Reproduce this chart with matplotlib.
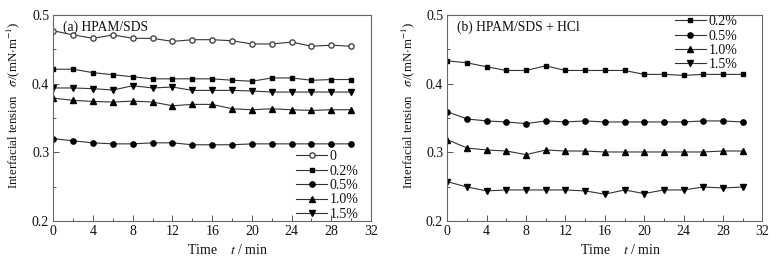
import numpy as np
import matplotlib
matplotlib.use("Agg")
import matplotlib.pyplot as plt
from matplotlib.ticker import MultipleLocator

plt.rcParams["font.family"] = ["Liberation Serif", "DejaVu Serif"]
plt.rcParams["mathtext.fontset"] = "stix"

# time axis (min)
t = [0, 2, 4, 6, 8, 10, 12, 14, 16, 18, 20, 22, 24, 26, 28, 30]

# (a) HPAM/SDS
a_labels = ["0", "0.2%", "0.5%", "1.0%", "1.5%"]
a_0 = [0.477, 0.471, 0.466, 0.471, 0.466, 0.466, 0.4615, 0.464, 0.464, 0.4625,
       0.4578, 0.4578, 0.4605, 0.4545, 0.456, 0.4545]
a_02 = [0.421, 0.421, 0.416, 0.413, 0.410, 0.407, 0.407, 0.407, 0.407, 0.405,
        0.4035, 0.4083, 0.4083, 0.4049, 0.406, 0.406]
a_05 = [0.320, 0.3167, 0.3138, 0.3123, 0.3123, 0.3138, 0.3138, 0.311, 0.311, 0.311,
        0.3123, 0.3123, 0.3123, 0.3123, 0.3123, 0.3123]
a_10 = [0.379, 0.3756, 0.3741, 0.3732, 0.3746, 0.3732, 0.3678, 0.3698, 0.3698, 0.3634,
        0.362, 0.3634, 0.362, 0.361, 0.362, 0.362]
a_15 = [0.3937, 0.3937, 0.3927, 0.3907, 0.397, 0.3937, 0.3951, 0.3902, 0.3902, 0.3902,
        0.3893, 0.3878, 0.3878, 0.3878, 0.3878, 0.3878]

# (b) HPAM/SDS + HCl
b_labels = ["0.2%", "0.5%", "1.0%", "1.5%"]
b_02 = [0.4332, 0.4303, 0.4245, 0.4192, 0.4192, 0.426, 0.4192, 0.4192, 0.4192, 0.4192,
        0.4135, 0.4135, 0.412, 0.4135, 0.4135, 0.4135]
b_05 = [0.3591, 0.3486, 0.3457, 0.3442, 0.3418, 0.3457, 0.3442, 0.3457, 0.3442, 0.3442,
        0.3442, 0.3442, 0.3442, 0.3457, 0.3457, 0.3442]
b_10 = [0.3183, 0.3063, 0.3034, 0.3019, 0.2966, 0.3034, 0.3019, 0.3019, 0.3005, 0.3005,
        0.3005, 0.3005, 0.3005, 0.3005, 0.3019, 0.3019]
b_15 = [0.2572, 0.2495, 0.2438, 0.2452, 0.2452, 0.2452, 0.2452, 0.2438, 0.239, 0.2452,
        0.2399, 0.2452, 0.2452, 0.2495, 0.2481, 0.2495]

LINE = "#333333"
TXT = "#111111"

fig = plt.figure(figsize=(7.81, 2.61), dpi=100)
ax1 = fig.add_axes([0.0683, 0.1533, 0.4068, 0.7893])
ax2 = fig.add_axes([0.5728, 0.1533, 0.4033, 0.7893])


def style_ax(ax, title, xlab_x, ylab_x):
    ax.set_xlim(0, 32)
    ax.set_ylim(0.2, 0.5)
    ax.xaxis.set_major_locator(MultipleLocator(4))
    ax.xaxis.set_minor_locator(MultipleLocator(2))
    ax.yaxis.set_major_locator(MultipleLocator(0.1))
    ax.yaxis.set_minor_locator(MultipleLocator(0.05))
    ax.yaxis.set_major_formatter(plt.FuncFormatter(lambda v, p: f"{v:.1f}"))
    ax.tick_params(which="both", direction="in", top=False, right=False,
                   labelsize=10, colors="#555555", labelcolor=TXT, width=0.7)
    ax.tick_params(which="major", length=4, pad=3)
    ax.tick_params(which="minor", length=2.5)
    for s in ax.spines.values():
        s.set_edgecolor("#666666")
        s.set_linewidth(0.8)
    ax.text(0.03, 0.975, title, transform=ax.transAxes, ha="left", va="top",
            fontsize=9.8, color=TXT)
    ax.set_xlabel(r"Time    $t$ / min", fontsize=10, color=TXT)
    ax.xaxis.set_label_coords(xlab_x, -0.105)
    ax.set_ylabel(r"Interfacial tension   $\sigma$/(mN$\cdot$m$^{-1}$)",
                  fontsize=9.3, color=TXT)
    ax.yaxis.set_label_coords(ylab_x, 0.563)


kw = dict(color=LINE, lw=0.8, ms=3.8, mec="black", mfc="black")
leg_kw = dict(frameon=False, fontsize=10, handlelength=2.2, handletextpad=0.2,
              labelspacing=0.1, labelcolor=TXT)

# panel a
ax1.plot(t, a_0, marker="o", label=a_labels[0], **{**kw, "mfc": "white", "mec": "#444444"})
ax1.plot(t, a_02, marker="s", label=a_labels[1], **{**kw, "ms": 3.4})
ax1.plot(t, a_05, marker="o", label=a_labels[2], **kw)
ax1.plot(t, a_10, marker="^", label=a_labels[3], **kw)
ax1.plot(t, a_15, marker="v", label=a_labels[4], **kw)
style_ax(ax1, "(a) HPAM/SDS", 0.549, -0.098)
ax1.legend(loc="lower right", bbox_to_anchor=(1.0, -0.06), **leg_kw)

# panel b
ax2.plot(t, b_02, marker="s", label=b_labels[0], **{**kw, "ms": 3.4})
ax2.plot(t, b_05, marker="o", label=b_labels[1], **kw)
ax2.plot(t, b_10, marker="^", label=b_labels[2], **kw)
ax2.plot(t, b_15, marker="v", label=b_labels[3], **kw)
style_ax(ax2, "(b) HPAM/SDS + HCl", 0.549, -0.095)
ax2.legend(loc="upper right", bbox_to_anchor=(0.96, 1.06), **leg_kw)

fig.savefig("out.png", dpi=100, facecolor="white")
